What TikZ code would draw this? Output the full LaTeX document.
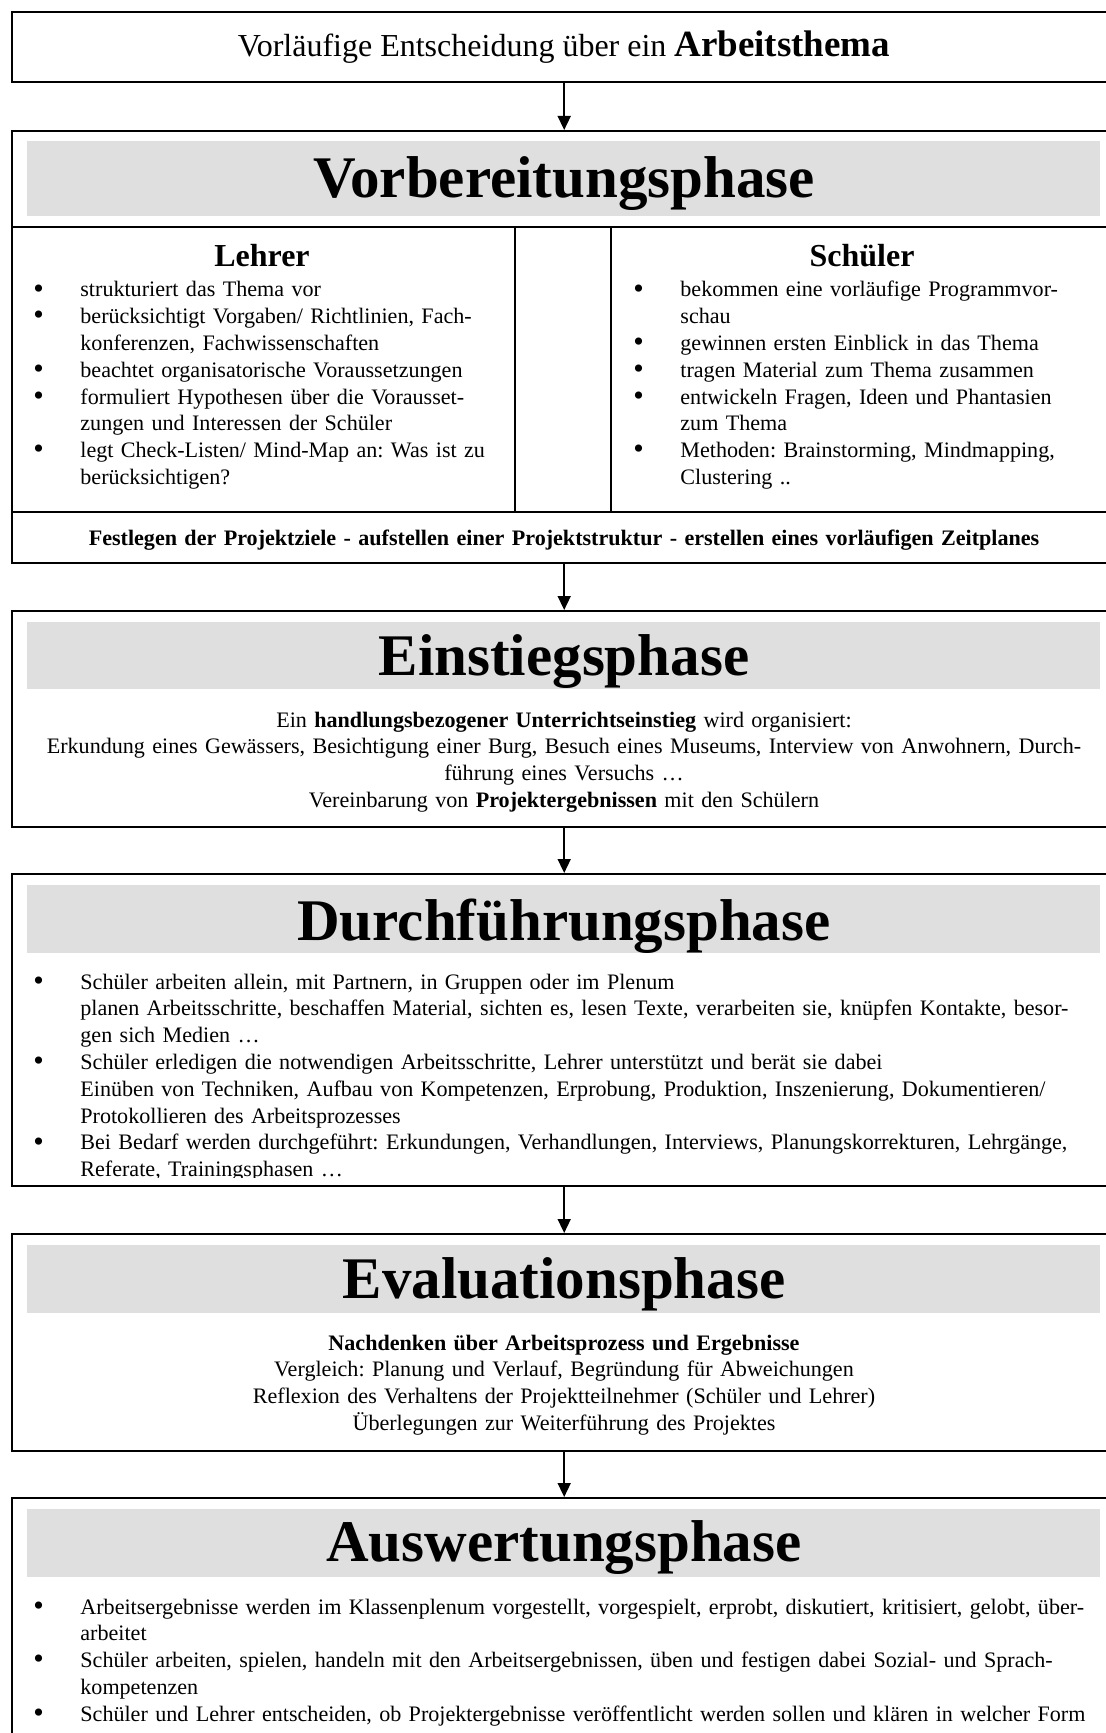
\documentclass[tikz,border=0pt]{standalone}
\usepackage{fontspec}
\setmainfont{Liberation Serif}
\usetikzlibrary{arrows.meta}
\frenchspacing

\definecolor{bandgray}{HTML}{DFDFDF}
\newcommand{\bul}{\makebox[23.5pt][l]{\raisebox{-0.6pt}{\fontsize{15}{15}\selectfont\textbullet}}}
\newcommand{\ind}{\hspace*{23.5pt}}

\tikzset{
  phasebox/.style={draw, line width=1.2pt, anchor=north west, minimum width=552pt, inner sep=0pt},
  band/.style={fill=bandgray, anchor=north west, minimum width=536.5pt, minimum height=33.5pt, inner sep=0pt},
  phasetitle/.style={anchor=base, inner sep=0pt, font=\fontsize{29.5}{34}\selectfont\bfseries},
  body/.style={inner sep=0pt, font=\fontsize{11.05}{13.4}\selectfont},
  bodylist/.style={body, anchor=base west, text width=540pt, align=left},
  bodycenter/.style={body, anchor=base, text width=540pt, align=center},
  arr/.style={-{Triangle[length=7pt,width=6.5pt]}, line width=0.8pt},
}

\begin{document}
\begin{tikzpicture}[x=0.5pt,y=-0.5pt]
  \useasboundingbox (0,0) rectangle (1106,1733);
  \clip (0,0) rectangle (1106,1733);

  \node[phasebox, minimum height=35pt] (start) at (11,11) {};
  \node[anchor=base, inner sep=0pt] (starttext) at (564,57)
    {\fontsize{16}{19}\selectfont Vorläufige Entscheidung über ein \fontsize{18.5}{22}\selectfont\bfseries Arbeitsthema};

  % Vorbereitung
  \node[phasebox, minimum height=216pt] (vorb) at (11,130) {};
  \node[band, minimum height=37.5pt] (vorbband) at (27,141) {};
  \node[phasetitle] (vorbtitle) at (564,198) {Vorbereitungsphase};
  \draw[line width=1.2pt] (11,227) -- (1115,227);
  \draw[line width=1.2pt] (11,512) -- (1115,512);
  \draw[line width=0.7pt] (515,227) -- (515,512);
  \draw[line width=0.7pt] (611,227) -- (611,512);
  \node[anchor=base, inner sep=0pt, font=\fontsize{16}{19}\selectfont\bfseries] (lehrer) at (262,267) {Lehrer};
  \node[anchor=base, inner sep=0pt, font=\fontsize{16}{19}\selectfont\bfseries] (schueler) at (862,267) {Schüler};
  \node[bodylist, text width=240pt] (lehrerlist) at (33,297) {%
    \bul strukturiert das Thema vor\\
    \bul berücksichtigt Vorgaben/ Richtlinien, Fach-\\
    \ind konferenzen, Fachwissenschaften\\
    \bul beachtet organisatorische Voraussetzungen\\
    \bul formuliert Hypothesen über die Vorausset-\\
    \ind zungen und Interessen der Schüler\\
    \bul legt Check-Listen/ Mind-Map an: Was ist zu\\
    \ind berücksichtigen?};
  \node[bodylist, text width=240pt] (schuelerlist) at (633,297) {%
    \bul bekommen eine vorläufige Programmvor-\\
    \ind schau\\
    \bul gewinnen ersten Einblick in das Thema\\
    \bul tragen Material zum Thema zusammen\\
    \bul entwickeln Fragen, Ideen und Phantasien\\
    \ind zum Thema\\
    \bul Methoden: Brainstorming, Mindmapping,\\
    \ind Clustering ..};
  \node[bodycenter, font=\fontsize{11.05}{13.4}\selectfont\bfseries] (ziele) at (564,545)
    {Festlegen der Projektziele - aufstellen einer Projektstruktur - erstellen eines vorläufigen Zeitplanes};

  % Einstieg
  \node[phasebox, minimum height=108pt] (einst) at (11,610) {};
  \node[band] (einstband) at (27,622) {};
  \node[phasetitle] (einsttitle) at (564,675) {Einstiegsphase};
  \node[bodycenter] (einsttext) at (564,727) {%
    Ein \textbf{handlungsbezogener Unterrichtseinstieg} wird organisiert:\\
    Erkundung eines Gewässers, Besichtigung einer Burg, Besuch eines Museums, Interview von Anwohnern, Durch-\\
    führung eines Versuchs …\\
    Vereinbarung von \textbf{Projektergebnissen} mit den Schülern};

  % Durchfuehrung
  \node[phasebox, minimum height=156pt] (durch) at (11,873) {};
  \node[band, minimum height=34pt] (durchband) at (27,885) {};
  \node[phasetitle] (durchtitle) at (564,940) {Durchführungsphase};
  \begin{scope}
    \clip (11,873) rectangle (1115,1177);
    \node[bodylist] (durchlist) at (33,989) {%
      \bul Schüler arbeiten allein, mit Partnern, in Gruppen oder im Plenum\\
      \ind planen Arbeitsschritte, beschaffen Material, sichten es, lesen Texte, verarbeiten sie, knüpfen Kontakte, besor-\\
      \ind gen sich Medien …\\
      \bul Schüler erledigen die notwendigen Arbeitsschritte, Lehrer unterstützt und berät sie dabei\\
      \ind Einüben von Techniken, Aufbau von Kompetenzen, Erprobung, Produktion, Inszenierung, Dokumentieren/\\
      \ind Protokollieren des Arbeitsprozesses\\
      \bul Bei Bedarf werden durchgeführt: Erkundungen, Verhandlungen, Interviews, Planungskorrekturen, Lehrgänge,\\
      \ind Referate, Trainingsphasen …};
  \end{scope}

  % Evaluation
  \node[phasebox, minimum height=108.5pt] (eval) at (11,1233) {};
  \node[band, minimum height=34pt] (evalband) at (27,1245) {};
  \node[phasetitle] (evaltitle) at (564,1298) {Evaluationsphase};
  \node[bodycenter] (evaltext) at (564,1350) {%
    \textbf{Nachdenken über Arbeitsprozess und Ergebnisse}\\
    Vergleich: Planung und Verlauf, Begründung für Abweichungen\\
    Reflexion des Verhaltens der Projektteilnehmer (Schüler und Lehrer)\\
    Überlegungen zur Weiterführung des Projektes};

  % Auswertung
  \node[phasebox, minimum height=140pt] (ausw) at (11,1497) {};
  \node[band, minimum height=34pt] (auswband) at (27,1509) {};
  \node[phasetitle] (auswtitle) at (564,1561) {Auswertungsphase};
  \node[bodylist] (auswlist) at (33,1614) {%
    \bul Arbeitsergebnisse werden im Klassenplenum vorgestellt, vorgespielt, erprobt, diskutiert, kritisiert, gelobt, über-\\
    \ind arbeitet\\
    \bul Schüler arbeiten, spielen, handeln mit den Arbeitsergebnissen, üben und festigen dabei Sozial- und Sprach-\\
    \ind kompetenzen\\
    \bul Schüler und Lehrer entscheiden, ob Projektergebnisse veröffentlicht werden sollen und klären in welcher Form};

  \draw[arr] (start.south) -- (vorb.north);
  \draw[arr] (vorb.south) -- (einst.north);
  \draw[arr] (einst.south) -- (durch.north);
  \draw[arr] (durch.south) -- (eval.north);
  \draw[arr] (eval.south) -- (ausw.north);
\end{tikzpicture}
\end{document}
